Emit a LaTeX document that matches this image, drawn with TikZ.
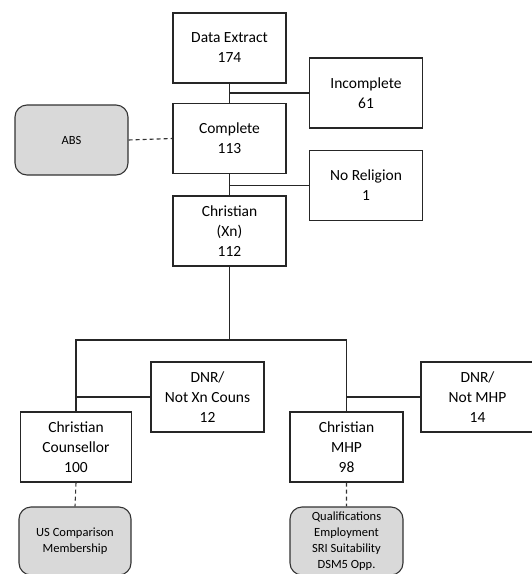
\documentclass[tikz,border=0pt]{standalone}
\usepackage{fontspec}
\setmainfont{Carlito}
\usepackage{tikz}
\tikzstyle{stage} = [draw=black!85, line width=1.1pt, fill=white, minimum width=113pt, minimum height=70pt, align=center, font=\fontsize{15.5}{20}\selectfont, inner sep=0pt]
\tikzstyle{extra} = [draw=black!80, line width=1.1pt, fill=black!15, rounded corners=12pt, minimum width=113pt, align=center, font=\fontsize{12.5}{16}\selectfont, inner sep=0pt]
\tikzstyle{link} = [draw=black!85, line width=1.1pt]
\tikzstyle{aside} = [draw=black!80, line width=1.1pt, dash pattern=on 4pt off 3pt]

\begin{document}
\begin{tikzpicture}[x=1pt,y=-1pt]

\useasboundingbox (0,0) rectangle (532,574);
\clip (0,0) rectangle (532,574);

% main flow
\node[stage] (extract) at (229.5,48) {Data Extract\\174};
\node[stage] (incomplete) at (366,93) {Incomplete\\61};
\node[stage] (complete) at (229.5,138.5) {Complete\\113};
\node[stage] (noreligion) at (366,185.5) {No Religion\\1};
\node[stage] (xn) at (229.5,231) {Christian\\(Xn)\\112};
\node[stage] (dnrcouns) at (207.5,397) {DNR/\\Not Xn Couns\\12};
\node[stage] (dnrmhp) at (477.5,397) {DNR/\\Not MHP\\14};
\node[stage, minimum width=111pt] (couns) at (76,447) {Christian\\Counsellor\\100};
\node[stage] (mhp) at (346.5,447) {Christian\\MHP\\98};
\coordinate (split) at (229.5,340);

% side data
\node[extra, minimum height=70pt] (abs) at (71.5,140) {ABS};
\node[extra, minimum width=112pt, minimum height=68pt] (compare) at (75,541) {US Comparison\\Membership};
\node[extra, minimum height=68pt] (quals) at (346.5,541) {Qualifications\\Employment\\SRI Suitability\\DSM5 Opp.};

\path[link]
(extract.south) |- (incomplete.west)
(complete.north) -- (complete.north |- incomplete.west)
(complete.south) |- (noreligion.west)
(xn.north) -- (xn.north |- noreligion.west)
(xn.south) -- (split)
(couns.north) |- (split) -| (mhp.north)
(couns.north |- dnrcouns.west) -- (dnrcouns.west)
(mhp.north |- dnrmhp.west) -- (dnrmhp.west);

\path[aside]
(abs.east) -- (complete.west)
(couns.south) -- (compare.north)
(mhp.south) -- (quals.north);

\end{tikzpicture}
\end{document}
